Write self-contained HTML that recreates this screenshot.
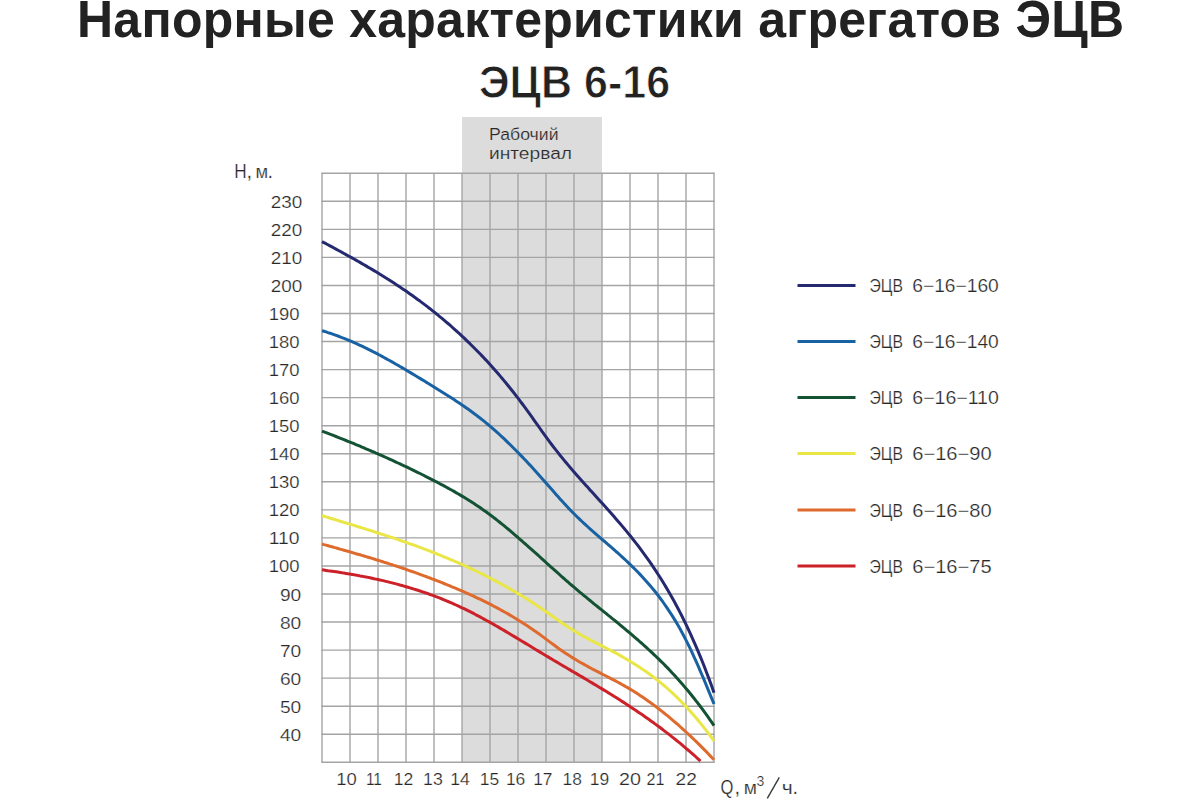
<!DOCTYPE html>
<html><head><meta charset="utf-8"><style>
html,body{margin:0;padding:0;background:#fff;width:1200px;height:800px;overflow:hidden}
svg{display:block}
.t{font-family:"Liberation Sans",sans-serif;font-weight:bold;fill:#222}
.l{font-family:"Liberation Sans",sans-serif;fill:#282828}
.l text{stroke:#fff;stroke-width:0.22px}
.g text{stroke:#dcdcdc}
</style></head><body>
<svg width="1200" height="800" viewBox="0 0 1200 800">
<rect x="0" y="0" width="1200" height="800" fill="#fff"/>
<text class="t" transform="translate(77,36.7) scale(1,1.025)" font-size="50" letter-spacing="0.27">Напорные характеристики агрегатов ЭЦВ</text>
<text class="t" transform="translate(479,97.6) scale(1,1.085)" font-size="43" stroke="#fff" stroke-width="0.8">ЭЦВ 6-16</text>
<rect x="462" y="117" width="140" height="645.30" fill="#dcdcdc"/>
<g stroke="#a4a4a4" stroke-width="1.4" fill="none">
<line x1="322.0" y1="173.25" x2="322.0" y2="762.30"/>
<line x1="350.0" y1="173.25" x2="350.0" y2="762.30"/>
<line x1="378.0" y1="173.25" x2="378.0" y2="762.30"/>
<line x1="406.0" y1="173.25" x2="406.0" y2="762.30"/>
<line x1="434.0" y1="173.25" x2="434.0" y2="762.30"/>
<line x1="462.0" y1="173.25" x2="462.0" y2="762.30"/>
<line x1="490.0" y1="173.25" x2="490.0" y2="762.30"/>
<line x1="518.0" y1="173.25" x2="518.0" y2="762.30"/>
<line x1="546.0" y1="173.25" x2="546.0" y2="762.30"/>
<line x1="574.0" y1="173.25" x2="574.0" y2="762.30"/>
<line x1="602.0" y1="173.25" x2="602.0" y2="762.30"/>
<line x1="630.0" y1="173.25" x2="630.0" y2="762.30"/>
<line x1="658.0" y1="173.25" x2="658.0" y2="762.30"/>
<line x1="686.0" y1="173.25" x2="686.0" y2="762.30"/>
<line x1="714.0" y1="173.25" x2="714.0" y2="762.30"/>
<line x1="321.3" y1="762.30" x2="714.7" y2="762.30"/>
<line x1="321.3" y1="734.25" x2="714.7" y2="734.25"/>
<line x1="321.3" y1="706.20" x2="714.7" y2="706.20"/>
<line x1="321.3" y1="678.15" x2="714.7" y2="678.15"/>
<line x1="321.3" y1="650.10" x2="714.7" y2="650.10"/>
<line x1="321.3" y1="622.05" x2="714.7" y2="622.05"/>
<line x1="321.3" y1="594.00" x2="714.7" y2="594.00"/>
<line x1="321.3" y1="565.95" x2="714.7" y2="565.95"/>
<line x1="321.3" y1="537.90" x2="714.7" y2="537.90"/>
<line x1="321.3" y1="509.85" x2="714.7" y2="509.85"/>
<line x1="321.3" y1="481.80" x2="714.7" y2="481.80"/>
<line x1="321.3" y1="453.75" x2="714.7" y2="453.75"/>
<line x1="321.3" y1="425.70" x2="714.7" y2="425.70"/>
<line x1="321.3" y1="397.65" x2="714.7" y2="397.65"/>
<line x1="321.3" y1="369.60" x2="714.7" y2="369.60"/>
<line x1="321.3" y1="341.55" x2="714.7" y2="341.55"/>
<line x1="321.3" y1="313.50" x2="714.7" y2="313.50"/>
<line x1="321.3" y1="285.45" x2="714.7" y2="285.45"/>
<line x1="321.3" y1="257.40" x2="714.7" y2="257.40"/>
<line x1="321.3" y1="229.35" x2="714.7" y2="229.35"/>
<line x1="321.3" y1="201.30" x2="714.7" y2="201.30"/>
<line x1="321.3" y1="173.25" x2="714.7" y2="173.25"/>
</g>
<g fill="none" stroke-width="3" stroke-linecap="butt" stroke-linejoin="round">
<path d="M322.0,241.6 L324.0,242.7 L326.0,243.7 L328.0,244.8 L330.0,245.9 L332.0,246.9 L334.0,248.0 L336.0,249.1 L338.0,250.2 L340.0,251.3 L342.0,252.4 L344.0,253.5 L346.0,254.6 L348.0,255.7 L350.0,256.8 L352.0,257.9 L354.0,259.0 L356.0,260.1 L358.0,261.3 L360.0,262.4 L362.0,263.6 L364.0,264.7 L366.0,265.9 L368.0,267.1 L370.0,268.2 L372.0,269.4 L374.0,270.6 L376.0,271.8 L378.0,273.0 L380.0,274.3 L382.0,275.5 L384.0,276.7 L386.0,278.0 L388.0,279.2 L390.0,280.5 L392.0,281.8 L394.0,283.1 L396.0,284.4 L398.0,285.7 L400.0,287.1 L402.0,288.4 L404.0,289.8 L406.0,291.1 L408.0,292.5 L410.0,293.9 L412.0,295.3 L414.0,296.8 L416.0,298.2 L418.0,299.7 L420.0,301.1 L422.0,302.6 L424.0,304.1 L426.0,305.6 L428.0,307.2 L430.0,308.7 L432.0,310.3 L434.0,311.9 L436.0,313.5 L438.0,315.1 L440.0,316.8 L442.0,318.4 L444.0,320.1 L446.0,321.8 L448.0,323.5 L450.0,325.2 L452.0,327.0 L454.0,328.8 L456.0,330.6 L458.0,332.4 L460.0,334.2 L462.0,336.1 L464.0,337.9 L466.0,339.9 L468.0,341.8 L470.0,343.7 L472.0,345.7 L474.0,347.7 L476.0,349.7 L478.0,351.7 L480.0,353.8 L482.0,355.9 L484.0,358.0 L486.0,360.1 L488.0,362.3 L490.0,364.5 L492.0,366.7 L494.0,369.0 L496.0,371.2 L498.0,373.5 L500.0,375.9 L502.0,378.2 L504.0,380.6 L506.0,383.0 L508.0,385.5 L510.0,388.0 L512.0,390.5 L514.0,393.0 L516.0,395.6 L518.0,398.2 L520.0,400.8 L522.0,403.5 L524.0,406.2 L526.0,408.9 L528.0,411.6 L530.0,414.4 L532.0,417.2 L534.0,420.1 L536.0,422.9 L538.0,425.7 L540.0,428.5 L542.0,431.4 L544.0,434.1 L546.0,436.9 L548.0,439.6 L550.0,442.3 L552.0,445.0 L554.0,447.6 L556.0,450.1 L558.0,452.7 L560.0,455.2 L562.0,457.6 L564.0,460.1 L566.0,462.5 L568.0,464.9 L570.0,467.2 L572.0,469.6 L574.0,471.9 L576.0,474.2 L578.0,476.5 L580.0,478.7 L582.0,481.0 L584.0,483.2 L586.0,485.4 L588.0,487.6 L590.0,489.9 L592.0,492.1 L594.0,494.3 L596.0,496.5 L598.0,498.7 L600.0,500.9 L602.0,503.1 L604.0,505.3 L606.0,507.5 L608.0,509.8 L610.0,512.0 L612.0,514.3 L614.0,516.6 L616.0,518.9 L618.0,521.2 L620.0,523.5 L622.0,525.9 L624.0,528.2 L626.0,530.6 L628.0,533.1 L630.0,535.5 L632.0,538.0 L634.0,540.6 L636.0,543.1 L638.0,545.7 L640.0,548.4 L642.0,551.1 L644.0,553.8 L646.0,556.6 L648.0,559.4 L650.0,562.2 L652.0,565.2 L654.0,568.1 L656.0,571.1 L658.0,574.2 L660.0,577.3 L662.0,580.5 L664.0,583.8 L666.0,587.1 L668.0,590.5 L670.0,594.0 L672.0,597.5 L674.0,601.1 L676.0,604.8 L678.0,608.5 L680.0,612.4 L682.0,616.3 L684.0,620.3 L686.0,624.4 L688.0,628.6 L690.0,632.9 L692.0,637.3 L694.0,641.8 L696.0,646.4 L698.0,651.1 L700.0,655.9 L702.0,660.8 L704.0,665.8 L706.0,671.0 L708.0,676.2 L710.0,681.6 L712.0,687.1 L714.0,692.7" stroke="#252970"/>
<path d="M322.0,330.7 L324.0,331.3 L326.0,331.9 L328.0,332.6 L330.0,333.2 L332.0,333.9 L334.0,334.6 L336.0,335.3 L338.0,336.0 L340.0,336.8 L342.0,337.6 L344.0,338.3 L346.0,339.1 L348.0,340.0 L350.0,340.8 L352.0,341.7 L354.0,342.6 L356.0,343.4 L358.0,344.4 L360.0,345.3 L362.0,346.2 L364.0,347.2 L366.0,348.1 L368.0,349.1 L370.0,350.1 L372.0,351.1 L374.0,352.2 L376.0,353.2 L378.0,354.2 L380.0,355.3 L382.0,356.4 L384.0,357.5 L386.0,358.6 L388.0,359.7 L390.0,360.8 L392.0,361.9 L394.0,363.0 L396.0,364.2 L398.0,365.3 L400.0,366.5 L402.0,367.6 L404.0,368.8 L406.0,370.0 L408.0,371.2 L410.0,372.4 L412.0,373.6 L414.0,374.8 L416.0,376.0 L418.0,377.2 L420.0,378.4 L422.0,379.6 L424.0,380.8 L426.0,382.1 L428.0,383.3 L430.0,384.5 L432.0,385.8 L434.0,387.0 L436.0,388.2 L438.0,389.5 L440.0,390.7 L442.0,392.0 L444.0,393.2 L446.0,394.5 L448.0,395.7 L450.0,397.0 L452.0,398.3 L454.0,399.6 L456.0,400.9 L458.0,402.2 L460.0,403.6 L462.0,404.9 L464.0,406.3 L466.0,407.7 L468.0,409.1 L470.0,410.5 L472.0,412.0 L474.0,413.5 L476.0,414.9 L478.0,416.5 L480.0,418.0 L482.0,419.6 L484.0,421.2 L486.0,422.8 L488.0,424.5 L490.0,426.2 L492.0,427.9 L494.0,429.6 L496.0,431.4 L498.0,433.2 L500.0,435.0 L502.0,436.9 L504.0,438.7 L506.0,440.6 L508.0,442.6 L510.0,444.5 L512.0,446.5 L514.0,448.5 L516.0,450.5 L518.0,452.5 L520.0,454.6 L522.0,456.6 L524.0,458.7 L526.0,460.8 L528.0,463.0 L530.0,465.1 L532.0,467.3 L534.0,469.5 L536.0,471.7 L538.0,473.9 L540.0,476.2 L542.0,478.4 L544.0,480.7 L546.0,483.0 L548.0,485.3 L550.0,487.6 L552.0,489.8 L554.0,492.1 L556.0,494.4 L558.0,496.6 L560.0,498.9 L562.0,501.1 L564.0,503.3 L566.0,505.4 L568.0,507.6 L570.0,509.7 L572.0,511.7 L574.0,513.7 L576.0,515.7 L578.0,517.7 L580.0,519.6 L582.0,521.5 L584.0,523.3 L586.0,525.2 L588.0,527.0 L590.0,528.8 L592.0,530.6 L594.0,532.3 L596.0,534.1 L598.0,535.8 L600.0,537.6 L602.0,539.3 L604.0,541.0 L606.0,542.7 L608.0,544.5 L610.0,546.2 L612.0,547.9 L614.0,549.7 L616.0,551.5 L618.0,553.2 L620.0,555.0 L622.0,556.8 L624.0,558.7 L626.0,560.5 L628.0,562.4 L630.0,564.3 L632.0,566.3 L634.0,568.2 L636.0,570.2 L638.0,572.3 L640.0,574.4 L642.0,576.5 L644.0,578.7 L646.0,580.9 L648.0,583.2 L650.0,585.5 L652.0,587.9 L654.0,590.3 L656.0,592.8 L658.0,595.4 L660.0,598.0 L662.0,600.7 L664.0,603.5 L666.0,606.3 L668.0,609.3 L670.0,612.3 L672.0,615.4 L674.0,618.6 L676.0,621.9 L678.0,625.3 L680.0,628.8 L682.0,632.5 L684.0,636.2 L686.0,640.1 L688.0,644.1 L690.0,648.2 L692.0,652.4 L694.0,656.8 L696.0,661.2 L698.0,665.7 L700.0,670.3 L702.0,675.0 L704.0,679.7 L706.0,684.5 L708.0,689.3 L710.0,694.2 L712.0,699.1 L714.0,704.0" stroke="#1862a4"/>
<path d="M322.0,431.1 L324.0,431.9 L326.0,432.6 L328.0,433.4 L330.0,434.2 L332.0,434.9 L334.0,435.7 L336.0,436.5 L338.0,437.3 L340.0,438.1 L342.0,438.9 L344.0,439.7 L346.0,440.5 L348.0,441.3 L350.0,442.1 L352.0,442.9 L354.0,443.7 L356.0,444.6 L358.0,445.4 L360.0,446.2 L362.0,447.1 L364.0,447.9 L366.0,448.8 L368.0,449.6 L370.0,450.5 L372.0,451.3 L374.0,452.2 L376.0,453.1 L378.0,453.9 L380.0,454.8 L382.0,455.7 L384.0,456.6 L386.0,457.5 L388.0,458.4 L390.0,459.3 L392.0,460.2 L394.0,461.1 L396.0,462.1 L398.0,463.0 L400.0,463.9 L402.0,464.9 L404.0,465.8 L406.0,466.7 L408.0,467.7 L410.0,468.7 L412.0,469.6 L414.0,470.6 L416.0,471.6 L418.0,472.6 L420.0,473.5 L422.0,474.5 L424.0,475.5 L426.0,476.6 L428.0,477.6 L430.0,478.6 L432.0,479.6 L434.0,480.6 L436.0,481.7 L438.0,482.7 L440.0,483.8 L442.0,484.8 L444.0,485.9 L446.0,487.0 L448.0,488.1 L450.0,489.2 L452.0,490.3 L454.0,491.4 L456.0,492.6 L458.0,493.7 L460.0,494.9 L462.0,496.1 L464.0,497.3 L466.0,498.5 L468.0,499.7 L470.0,501.0 L472.0,502.3 L474.0,503.6 L476.0,504.9 L478.0,506.2 L480.0,507.6 L482.0,509.0 L484.0,510.4 L486.0,511.8 L488.0,513.3 L490.0,514.7 L492.0,516.2 L494.0,517.8 L496.0,519.3 L498.0,520.9 L500.0,522.5 L502.0,524.1 L504.0,525.7 L506.0,527.4 L508.0,529.0 L510.0,530.7 L512.0,532.4 L514.0,534.1 L516.0,535.8 L518.0,537.5 L520.0,539.3 L522.0,541.0 L524.0,542.8 L526.0,544.5 L528.0,546.3 L530.0,548.1 L532.0,549.9 L534.0,551.7 L536.0,553.4 L538.0,555.2 L540.0,557.0 L542.0,558.9 L544.0,560.7 L546.0,562.5 L548.0,564.3 L550.0,566.1 L552.0,567.9 L554.0,569.6 L556.0,571.4 L558.0,573.2 L560.0,575.0 L562.0,576.8 L564.0,578.5 L566.0,580.3 L568.0,582.0 L570.0,583.8 L572.0,585.5 L574.0,587.2 L576.0,588.9 L578.0,590.6 L580.0,592.3 L582.0,593.9 L584.0,595.6 L586.0,597.2 L588.0,598.9 L590.0,600.5 L592.0,602.1 L594.0,603.8 L596.0,605.4 L598.0,607.0 L600.0,608.6 L602.0,610.2 L604.0,611.8 L606.0,613.4 L608.0,615.1 L610.0,616.7 L612.0,618.3 L614.0,619.9 L616.0,621.5 L618.0,623.2 L620.0,624.8 L622.0,626.5 L624.0,628.1 L626.0,629.8 L628.0,631.5 L630.0,633.1 L632.0,634.8 L634.0,636.6 L636.0,638.3 L638.0,640.0 L640.0,641.8 L642.0,643.5 L644.0,645.3 L646.0,647.1 L648.0,649.0 L650.0,650.8 L652.0,652.7 L654.0,654.6 L656.0,656.5 L658.0,658.4 L660.0,660.4 L662.0,662.3 L664.0,664.3 L666.0,666.4 L668.0,668.4 L670.0,670.5 L672.0,672.7 L674.0,674.8 L676.0,677.0 L678.0,679.2 L680.0,681.5 L682.0,683.7 L684.0,686.1 L686.0,688.4 L688.0,690.8 L690.0,693.2 L692.0,695.7 L694.0,698.2 L696.0,700.8 L698.0,703.3 L700.0,706.0 L702.0,708.6 L704.0,711.4 L706.0,714.1 L708.0,716.9 L710.0,719.8 L712.0,722.7 L714.0,725.6" stroke="#135233"/>
<path d="M322.0,515.7 L324.0,516.3 L326.0,516.9 L328.0,517.5 L330.0,518.1 L332.0,518.7 L334.0,519.3 L336.0,519.9 L338.0,520.5 L340.0,521.2 L342.0,521.8 L344.0,522.4 L346.0,523.0 L348.0,523.6 L350.0,524.2 L352.0,524.8 L354.0,525.4 L356.0,526.0 L358.0,526.7 L360.0,527.3 L362.0,527.9 L364.0,528.5 L366.0,529.1 L368.0,529.8 L370.0,530.4 L372.0,531.0 L374.0,531.7 L376.0,532.3 L378.0,533.0 L380.0,533.6 L382.0,534.2 L384.0,534.9 L386.0,535.6 L388.0,536.2 L390.0,536.9 L392.0,537.5 L394.0,538.2 L396.0,538.9 L398.0,539.6 L400.0,540.3 L402.0,541.0 L404.0,541.6 L406.0,542.3 L408.0,543.1 L410.0,543.8 L412.0,544.5 L414.0,545.2 L416.0,545.9 L418.0,546.7 L420.0,547.4 L422.0,548.1 L424.0,548.9 L426.0,549.6 L428.0,550.4 L430.0,551.2 L432.0,552.0 L434.0,552.7 L436.0,553.5 L438.0,554.3 L440.0,555.1 L442.0,555.9 L444.0,556.8 L446.0,557.6 L448.0,558.4 L450.0,559.3 L452.0,560.1 L454.0,561.0 L456.0,561.8 L458.0,562.7 L460.0,563.6 L462.0,564.5 L464.0,565.4 L466.0,566.3 L468.0,567.2 L470.0,568.2 L472.0,569.1 L474.0,570.1 L476.0,571.0 L478.0,572.0 L480.0,573.0 L482.0,573.9 L484.0,574.9 L486.0,576.0 L488.0,577.0 L490.0,578.0 L492.0,579.0 L494.0,580.1 L496.0,581.2 L498.0,582.2 L500.0,583.3 L502.0,584.4 L504.0,585.5 L506.0,586.6 L508.0,587.8 L510.0,588.9 L512.0,590.1 L514.0,591.2 L516.0,592.4 L518.0,593.6 L520.0,594.8 L522.0,596.0 L524.0,597.2 L526.0,598.5 L528.0,599.7 L530.0,601.0 L532.0,602.3 L534.0,603.6 L536.0,604.9 L538.0,606.2 L540.0,607.6 L542.0,608.9 L544.0,610.3 L546.0,611.7 L548.0,613.0 L550.0,614.5 L552.0,615.9 L554.0,617.3 L556.0,618.7 L558.0,620.1 L560.0,621.5 L562.0,622.9 L564.0,624.3 L566.0,625.6 L568.0,627.0 L570.0,628.3 L572.0,629.6 L574.0,630.8 L576.0,632.0 L578.0,633.2 L580.0,634.4 L582.0,635.5 L584.0,636.6 L586.0,637.7 L588.0,638.7 L590.0,639.8 L592.0,640.8 L594.0,641.8 L596.0,642.9 L598.0,643.9 L600.0,644.9 L602.0,645.9 L604.0,646.9 L606.0,648.0 L608.0,649.0 L610.0,650.0 L612.0,651.1 L614.0,652.2 L616.0,653.2 L618.0,654.3 L620.0,655.4 L622.0,656.6 L624.0,657.7 L626.0,658.9 L628.0,660.0 L630.0,661.2 L632.0,662.5 L634.0,663.7 L636.0,665.0 L638.0,666.2 L640.0,667.5 L642.0,668.9 L644.0,670.2 L646.0,671.6 L648.0,673.0 L650.0,674.5 L652.0,676.0 L654.0,677.5 L656.0,679.0 L658.0,680.6 L660.0,682.2 L662.0,683.8 L664.0,685.5 L666.0,687.2 L668.0,689.0 L670.0,690.8 L672.0,692.6 L674.0,694.5 L676.0,696.4 L678.0,698.4 L680.0,700.3 L682.0,702.4 L684.0,704.5 L686.0,706.6 L688.0,708.7 L690.0,710.9 L692.0,713.2 L694.0,715.5 L696.0,717.8 L698.0,720.2 L700.0,722.6 L702.0,725.1 L704.0,727.6 L706.0,730.2 L708.0,732.8 L710.0,735.5 L712.0,738.2 L714.0,741.0" stroke="#e9e645"/>
<path d="M322.0,544.0 L324.0,544.6 L326.0,545.1 L328.0,545.7 L330.0,546.3 L332.0,546.8 L334.0,547.4 L336.0,547.9 L338.0,548.5 L340.0,549.1 L342.0,549.6 L344.0,550.2 L346.0,550.8 L348.0,551.3 L350.0,551.9 L352.0,552.5 L354.0,553.1 L356.0,553.7 L358.0,554.2 L360.0,554.8 L362.0,555.4 L364.0,556.0 L366.0,556.6 L368.0,557.2 L370.0,557.8 L372.0,558.4 L374.0,559.0 L376.0,559.7 L378.0,560.3 L380.0,560.9 L382.0,561.5 L384.0,562.2 L386.0,562.8 L388.0,563.4 L390.0,564.1 L392.0,564.7 L394.0,565.4 L396.0,566.0 L398.0,566.7 L400.0,567.4 L402.0,568.0 L404.0,568.7 L406.0,569.4 L408.0,570.1 L410.0,570.8 L412.0,571.5 L414.0,572.2 L416.0,572.9 L418.0,573.6 L420.0,574.3 L422.0,575.1 L424.0,575.8 L426.0,576.5 L428.0,577.3 L430.0,578.0 L432.0,578.8 L434.0,579.5 L436.0,580.3 L438.0,581.1 L440.0,581.9 L442.0,582.7 L444.0,583.5 L446.0,584.3 L448.0,585.1 L450.0,585.9 L452.0,586.8 L454.0,587.6 L456.0,588.4 L458.0,589.3 L460.0,590.2 L462.0,591.0 L464.0,591.9 L466.0,592.8 L468.0,593.7 L470.0,594.6 L472.0,595.5 L474.0,596.4 L476.0,597.4 L478.0,598.3 L480.0,599.2 L482.0,600.2 L484.0,601.2 L486.0,602.2 L488.0,603.2 L490.0,604.2 L492.0,605.2 L494.0,606.3 L496.0,607.3 L498.0,608.4 L500.0,609.5 L502.0,610.6 L504.0,611.7 L506.0,612.8 L508.0,613.9 L510.0,615.1 L512.0,616.3 L514.0,617.5 L516.0,618.7 L518.0,619.9 L520.0,621.2 L522.0,622.4 L524.0,623.7 L526.0,625.0 L528.0,626.3 L530.0,627.7 L532.0,629.0 L534.0,630.4 L536.0,631.8 L538.0,633.2 L540.0,634.6 L542.0,636.1 L544.0,637.6 L546.0,639.1 L548.0,640.6 L550.0,642.1 L552.0,643.6 L554.0,645.0 L556.0,646.5 L558.0,648.0 L560.0,649.4 L562.0,650.8 L564.0,652.2 L566.0,653.5 L568.0,654.8 L570.0,656.1 L572.0,657.4 L574.0,658.6 L576.0,659.8 L578.0,661.0 L580.0,662.2 L582.0,663.3 L584.0,664.4 L586.0,665.5 L588.0,666.6 L590.0,667.7 L592.0,668.8 L594.0,669.8 L596.0,670.9 L598.0,671.9 L600.0,672.9 L602.0,674.0 L604.0,675.0 L606.0,676.0 L608.0,677.0 L610.0,678.1 L612.0,679.1 L614.0,680.2 L616.0,681.2 L618.0,682.3 L620.0,683.4 L622.0,684.5 L624.0,685.6 L626.0,686.8 L628.0,687.9 L630.0,689.1 L632.0,690.3 L634.0,691.5 L636.0,692.8 L638.0,694.1 L640.0,695.4 L642.0,696.7 L644.0,698.1 L646.0,699.5 L648.0,700.9 L650.0,702.3 L652.0,703.8 L654.0,705.2 L656.0,706.7 L658.0,708.3 L660.0,709.8 L662.0,711.4 L664.0,713.0 L666.0,714.6 L668.0,716.2 L670.0,717.9 L672.0,719.6 L674.0,721.3 L676.0,723.0 L678.0,724.7 L680.0,726.5 L682.0,728.3 L684.0,730.1 L686.0,732.0 L688.0,733.8 L690.0,735.7 L692.0,737.6 L694.0,739.5 L696.0,741.4 L698.0,743.4 L700.0,745.4 L702.0,747.4 L704.0,749.4 L706.0,751.4 L708.0,753.5 L710.0,755.6 L712.0,757.7 L714.0,759.8" stroke="#df6a2e"/>
<path d="M322.0,569.8 L324.0,570.1 L326.0,570.4 L328.0,570.7 L330.0,570.9 L332.0,571.2 L334.0,571.5 L336.0,571.8 L338.0,572.1 L340.0,572.4 L342.0,572.8 L344.0,573.1 L346.0,573.4 L348.0,573.7 L350.0,574.1 L352.0,574.4 L354.0,574.8 L356.0,575.1 L358.0,575.5 L360.0,575.9 L362.0,576.2 L364.0,576.6 L366.0,577.0 L368.0,577.4 L370.0,577.8 L372.0,578.2 L374.0,578.7 L376.0,579.1 L378.0,579.5 L380.0,580.0 L382.0,580.4 L384.0,580.9 L386.0,581.4 L388.0,581.9 L390.0,582.4 L392.0,582.9 L394.0,583.4 L396.0,583.9 L398.0,584.4 L400.0,585.0 L402.0,585.5 L404.0,586.1 L406.0,586.7 L408.0,587.3 L410.0,587.9 L412.0,588.5 L414.0,589.1 L416.0,589.7 L418.0,590.3 L420.0,591.0 L422.0,591.7 L424.0,592.3 L426.0,593.0 L428.0,593.7 L430.0,594.5 L432.0,595.2 L434.0,595.9 L436.0,596.7 L438.0,597.4 L440.0,598.2 L442.0,599.0 L444.0,599.8 L446.0,600.7 L448.0,601.5 L450.0,602.3 L452.0,603.2 L454.0,604.1 L456.0,605.0 L458.0,605.9 L460.0,606.8 L462.0,607.8 L464.0,608.7 L466.0,609.7 L468.0,610.7 L470.0,611.7 L472.0,612.7 L474.0,613.7 L476.0,614.8 L478.0,615.8 L480.0,616.9 L482.0,618.0 L484.0,619.1 L486.0,620.2 L488.0,621.3 L490.0,622.4 L492.0,623.5 L494.0,624.6 L496.0,625.8 L498.0,626.9 L500.0,628.1 L502.0,629.3 L504.0,630.4 L506.0,631.6 L508.0,632.8 L510.0,634.0 L512.0,635.2 L514.0,636.4 L516.0,637.6 L518.0,638.8 L520.0,640.0 L522.0,641.2 L524.0,642.4 L526.0,643.6 L528.0,644.8 L530.0,646.0 L532.0,647.3 L534.0,648.5 L536.0,649.7 L538.0,650.9 L540.0,652.1 L542.0,653.3 L544.0,654.5 L546.0,655.7 L548.0,656.9 L550.0,658.1 L552.0,659.3 L554.0,660.5 L556.0,661.6 L558.0,662.8 L560.0,664.0 L562.0,665.2 L564.0,666.4 L566.0,667.5 L568.0,668.7 L570.0,669.9 L572.0,671.1 L574.0,672.2 L576.0,673.4 L578.0,674.6 L580.0,675.8 L582.0,676.9 L584.0,678.1 L586.0,679.3 L588.0,680.5 L590.0,681.7 L592.0,682.9 L594.0,684.1 L596.0,685.3 L598.0,686.5 L600.0,687.7 L602.0,688.9 L604.0,690.1 L606.0,691.3 L608.0,692.6 L610.0,693.8 L612.0,695.0 L614.0,696.3 L616.0,697.5 L618.0,698.8 L620.0,700.1 L622.0,701.4 L624.0,702.6 L626.0,703.9 L628.0,705.2 L630.0,706.6 L632.0,707.9 L634.0,709.2 L636.0,710.5 L638.0,711.9 L640.0,713.3 L642.0,714.6 L644.0,716.0 L646.0,717.4 L648.0,718.8 L650.0,720.2 L652.0,721.7 L654.0,723.1 L656.0,724.6 L658.0,726.1 L660.0,727.5 L662.0,729.0 L664.0,730.6 L666.0,732.1 L668.0,733.6 L670.0,735.2 L672.0,736.8 L674.0,738.4 L676.0,740.0 L678.0,741.6 L680.0,743.2 L682.0,744.9 L684.0,746.6 L686.0,748.3 L688.0,750.0 L690.0,751.7 L692.0,753.5 L694.0,755.2 L696.0,757.0 L698.0,758.8 L700.0,760.7 L700.5,761.1" stroke="#cc2129"/>
</g>
<g class="l" font-size="16.5" text-anchor="end">
<text x="301.2" y="740.8" textLength="21.3" lengthAdjust="spacingAndGlyphs">40</text>
<text x="301.2" y="712.7" textLength="21.3" lengthAdjust="spacingAndGlyphs">50</text>
<text x="301.2" y="684.6" textLength="21.3" lengthAdjust="spacingAndGlyphs">60</text>
<text x="301.2" y="656.6" textLength="21.3" lengthAdjust="spacingAndGlyphs">70</text>
<text x="301.2" y="628.5" textLength="21.3" lengthAdjust="spacingAndGlyphs">80</text>
<text x="301.2" y="600.5" textLength="21.3" lengthAdjust="spacingAndGlyphs">90</text>
<text x="299.6" y="572.4" textLength="30.8" lengthAdjust="spacingAndGlyphs">100</text>
<text x="299.6" y="544.4" textLength="30.8" lengthAdjust="spacingAndGlyphs">110</text>
<text x="299.6" y="516.3" textLength="30.8" lengthAdjust="spacingAndGlyphs">120</text>
<text x="299.6" y="488.3" textLength="30.8" lengthAdjust="spacingAndGlyphs">130</text>
<text x="299.6" y="460.2" textLength="30.8" lengthAdjust="spacingAndGlyphs">140</text>
<text x="299.6" y="432.2" textLength="30.8" lengthAdjust="spacingAndGlyphs">150</text>
<text x="299.6" y="404.1" textLength="30.8" lengthAdjust="spacingAndGlyphs">160</text>
<text x="299.6" y="376.1" textLength="30.8" lengthAdjust="spacingAndGlyphs">170</text>
<text x="299.6" y="348.0" textLength="30.8" lengthAdjust="spacingAndGlyphs">180</text>
<text x="299.6" y="320.0" textLength="30.8" lengthAdjust="spacingAndGlyphs">190</text>
<text x="302.3" y="291.9" textLength="31.5" lengthAdjust="spacingAndGlyphs">200</text>
<text x="302.3" y="263.9" textLength="31.5" lengthAdjust="spacingAndGlyphs">210</text>
<text x="302.3" y="235.8" textLength="31.5" lengthAdjust="spacingAndGlyphs">220</text>
<text x="302.3" y="207.8" textLength="31.5" lengthAdjust="spacingAndGlyphs">230</text>
</g>
<g class="l" font-size="16.5" text-anchor="middle">
<text x="346.6" y="785" textLength="20.5" lengthAdjust="spacingAndGlyphs">10</text>
<text x="373.9" y="785" textLength="16.0" lengthAdjust="spacingAndGlyphs">11</text>
<text x="403.4" y="785" textLength="19.5" lengthAdjust="spacingAndGlyphs">12</text>
<text x="432.9" y="785" textLength="19.7" lengthAdjust="spacingAndGlyphs">13</text>
<text x="460.0" y="785" textLength="19.6" lengthAdjust="spacingAndGlyphs">14</text>
<text x="489.4" y="785" textLength="19.4" lengthAdjust="spacingAndGlyphs">15</text>
<text x="515.6" y="785" textLength="19.4" lengthAdjust="spacingAndGlyphs">16</text>
<text x="542.8" y="785" textLength="19.3" lengthAdjust="spacingAndGlyphs">17</text>
<text x="572.2" y="785" textLength="19.3" lengthAdjust="spacingAndGlyphs">18</text>
<text x="599.4" y="785" textLength="19.4" lengthAdjust="spacingAndGlyphs">19</text>
<text x="629.9" y="785" textLength="21.9" lengthAdjust="spacingAndGlyphs">20</text>
<text x="655.4" y="785" textLength="18.0" lengthAdjust="spacingAndGlyphs">21</text>
<text x="686.2" y="785" textLength="21.3" lengthAdjust="spacingAndGlyphs">22</text>
</g>
<g class="l g" font-size="16">
<text x="489" y="140" textLength="69.5" lengthAdjust="spacingAndGlyphs">Рабочий</text>
<text x="489" y="159.2" textLength="83" lengthAdjust="spacingAndGlyphs">интервал</text>
</g>
<g class="l" font-size="20">
<text x="234.2" y="177.7" textLength="12.4" lengthAdjust="spacingAndGlyphs">H</text>
<text x="246.5" y="177.7">,</text>
<text x="255.6" y="177.7" font-size="18.5" textLength="12.6" lengthAdjust="spacingAndGlyphs">м</text>
<text x="267.5" y="177.7">.</text>
<text x="720.5" y="794.3" textLength="12.9" lengthAdjust="spacingAndGlyphs">Q</text>
<text x="734.6" y="794.3">,</text>
<text x="743.8" y="794.3" font-size="18.5" textLength="13.2" lengthAdjust="spacingAndGlyphs">м</text>
<text x="756.6" y="785.6" font-size="14">3</text>
<line x1="767.3" y1="798.4" x2="779.3" y2="777.4" stroke="#3c3c3c" stroke-width="1.4"/>
<text x="781.8" y="794.3" font-size="18.5" textLength="11" lengthAdjust="spacingAndGlyphs">ч</text>
<text x="792.4" y="794.3">.</text>
</g>
<g stroke-width="3" fill="none">
<line x1="797.5" y1="285.4" x2="855.5" y2="285.4" stroke="#252970"/>
<line x1="797.5" y1="341.4" x2="855.5" y2="341.4" stroke="#1862a4"/>
<line x1="797.5" y1="397.6" x2="855.5" y2="397.6" stroke="#135233"/>
<line x1="797.5" y1="453.6" x2="855.5" y2="453.6" stroke="#e9e645"/>
<line x1="797.5" y1="510.0" x2="855.5" y2="510.0" stroke="#df6a2e"/>
<line x1="797.5" y1="566.0" x2="855.5" y2="566.0" stroke="#cc2129"/>
</g>
<g class="l" font-size="17.5">
<text x="869.6" y="292.0" textLength="33.3" lengthAdjust="spacingAndGlyphs">ЭЦВ</text>
<text x="912.3" y="292.0" textLength="86.5" lengthAdjust="spacingAndGlyphs">6−16−160</text>
<text x="869.6" y="348.0" textLength="33.3" lengthAdjust="spacingAndGlyphs">ЭЦВ</text>
<text x="912.3" y="348.0" textLength="86.5" lengthAdjust="spacingAndGlyphs">6−16−140</text>
<text x="869.6" y="404.2" textLength="33.3" lengthAdjust="spacingAndGlyphs">ЭЦВ</text>
<text x="912.3" y="404.2" textLength="86.5" lengthAdjust="spacingAndGlyphs">6−16−110</text>
<text x="869.6" y="460.2" textLength="33.3" lengthAdjust="spacingAndGlyphs">ЭЦВ</text>
<text x="912.3" y="460.2" textLength="79.3" lengthAdjust="spacingAndGlyphs">6−16−90</text>
<text x="869.6" y="516.6" textLength="33.3" lengthAdjust="spacingAndGlyphs">ЭЦВ</text>
<text x="912.3" y="516.6" textLength="79.3" lengthAdjust="spacingAndGlyphs">6−16−80</text>
<text x="869.6" y="572.6" textLength="33.3" lengthAdjust="spacingAndGlyphs">ЭЦВ</text>
<text x="912.3" y="572.6" textLength="79.3" lengthAdjust="spacingAndGlyphs">6−16−75</text>
</g>
</svg>
</body></html>
